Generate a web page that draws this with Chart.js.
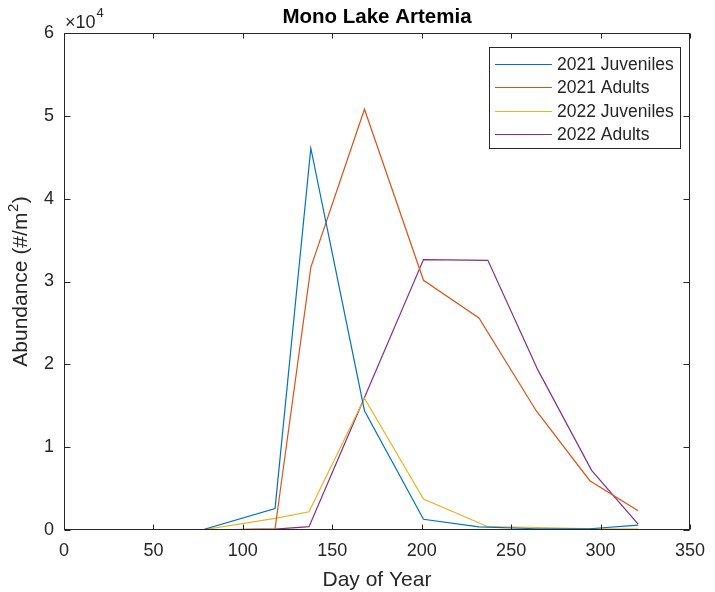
<!DOCTYPE html>
<html>
<head>
<meta charset="utf-8">
<script src="https://cdn.jsdelivr.net/npm/chart.js@4"></script>
<style>
  html, body { margin: 0; padding: 0; background: #fff; }
  #wrap { width: 715px; height: 592px; position: relative; }
</style>
</head>
<body>
<div id="wrap"><canvas id="c" width="715" height="592"></canvas></div>
<script>
// ---- data ----
const seriesLabels = ["2021 Juveniles", "2021 Adults", "2022 Juveniles", "2022 Adults"];
const days2021 = [42, 77, 118, 138, 168, 201, 232, 264, 294, 321];
const days2022 = [42, 77, 118, 137, 168, 201, 237, 265, 295, 321];
const juveniles2021 = [0, 0, 2600, 46100, 14400, 1300, 380, 150, 150, 600];
const adults2021 = [0, 0, 150, 31700, 50800, 30150, 25600, 14400, 5950, 2330];
const juveniles2022 = [0, 0, 1400, 2200, 15900, 3750, 400, 300, 150, 100];
const adults2022 = [0, 0, 100, 400, 16000, 32650, 32560, 19300, 7200, 700];
const xTicks = [0, 50, 100, 150, 200, 250, 300, 350];
const yTicks = [0, 1, 2, 3, 4, 5, 6]; // x 10^4
const yMultiplier = 10000;

const colors = ["#0072BD", "#D95319", "#EDB120", "#7E2F8E"];
const seriesDays = [days2021, days2021, days2022, days2022];
const seriesVals = [juveniles2021, adults2021, juveniles2022, adults2022];

const datasets = seriesLabels.map((lab, i) => ({
  label: lab,
  data: seriesDays[i].map((d, j) => ({ x: d, y: seriesVals[i][j] })),
  borderColor: colors[i],
  backgroundColor: colors[i],
  borderWidth: 1.2,
  pointRadius: 0,
  showLine: true,
  tension: 0,
  fill: false
}));

const AX = "#262626";
const FONT = "'Liberation Sans', Arial, Helvetica, sans-serif";

const decor = {
  id: "decor",
  afterDraw(chart) {
    const ctx = chart.ctx;
    const a = chart.chartArea;
    const xs = chart.scales.x, ys = chart.scales.y;
    ctx.save();
    // frame
    ctx.strokeStyle = AX;
    ctx.lineWidth = 1;
    const L = Math.round(a.left) + 0.5, R = Math.round(a.right) - 0.5;
    const T = Math.round(a.top) + 0.5, B = Math.round(a.bottom) - 0.5;
    ctx.strokeRect(L, T, R - L, B - T);
    // inward ticks
    const tl = 5;
    ctx.beginPath();
    xTicks.forEach(v => {
      const px = Math.round(xs.getPixelForValue(v)) + 0.5;
      ctx.moveTo(px, B); ctx.lineTo(px, B - tl);
      ctx.moveTo(px, T); ctx.lineTo(px, T + tl);
    });
    yTicks.forEach(v => {
      const py = Math.round(ys.getPixelForValue(v * yMultiplier)) + 0.5;
      ctx.moveTo(L, py); ctx.lineTo(L + tl + 1, py);
      ctx.moveTo(R, py); ctx.lineTo(R - tl - 1, py);
    });
    ctx.stroke();

    // title
    ctx.fillStyle = "#000";
    ctx.font = "bold 20.5px " + FONT;
    ctx.textAlign = "center";
    ctx.textBaseline = "alphabetic";
    ctx.fillText("Mono Lake Artemia", (a.left + a.right) / 2, 23);

    // exponent label
    ctx.fillStyle = AX;
    ctx.textAlign = "left";
    ctx.font = "18px " + FONT;
    ctx.fillText("\u00d710", 65, 28);
    const w10 = ctx.measureText("\u00d710").width;
    ctx.font = "13px " + FONT;
    ctx.fillText("4", 65 + w10 + 1, 17);

    // x label
    ctx.font = "21px " + FONT;
    ctx.textAlign = "center";
    ctx.fillText("Day of Year", (a.left + a.right) / 2, 586);

    // y label (rotated, with superscript)
    ctx.save();
    ctx.translate(27, (a.top + a.bottom) / 2);
    ctx.rotate(-Math.PI / 2);
    ctx.textAlign = "left";
    const p1 = "Abundance (#/m", p2 = "2", p3 = ")";
    ctx.font = "21px " + FONT;
    const w1 = ctx.measureText(p1).width, w3 = ctx.measureText(p3).width;
    ctx.font = "15px " + FONT;
    const w2 = ctx.measureText(p2).width;
    const total = w1 + w2 + w3 + 1;
    let x0 = -total / 2;
    ctx.font = "21px " + FONT;
    ctx.fillText(p1, x0, 0);
    ctx.font = "15px " + FONT;
    ctx.fillText(p2, x0 + w1 + 0.5, -9);
    ctx.font = "21px " + FONT;
    ctx.fillText(p3, x0 + w1 + w2 + 1, 0);
    ctx.restore();

    // legend
    const lx = 489.5, ly = 47.5, lw = 191, lh = 101;
    ctx.fillStyle = "#fff";
    ctx.fillRect(lx, ly, lw, lh);
    ctx.strokeStyle = AX;
    ctx.lineWidth = 1;
    ctx.strokeRect(lx, ly, lw, lh);
    ctx.font = "17.5px " + FONT;
    ctx.textAlign = "left";
    ctx.textBaseline = "middle";
    chart.data.datasets.forEach((ds, i) => {
      const cy = 64 + i * 23.4;
      ctx.strokeStyle = ds.borderColor;
      ctx.lineWidth = 1.2;
      ctx.beginPath();
      ctx.moveTo(495, Math.round(cy) + 0.5);
      ctx.lineTo(552, Math.round(cy) + 0.5);
      ctx.stroke();
      ctx.fillStyle = AX;
      ctx.fillText(ds.label, 557, cy + 1);
    });
    ctx.restore();
  }
};

new Chart(document.getElementById("c"), {
  type: "scatter",
  data: { datasets },
  options: {
    responsive: false,
    animation: false,
    events: [],
    layout: { padding: { left: 0, top: 33, right: 18, bottom: 0 } },
    plugins: { legend: { display: false }, tooltip: { enabled: false }, title: { display: false } },
    scales: {
      x: {
        type: "linear",
        min: 0, max: 350,
        afterFit(s) { s.height = 62; },
        afterBuildTicks(s) { s.ticks = xTicks.map(v => ({ value: v })); },
        grid: { display: false, drawTicks: false },
        border: { display: false },
        ticks: { color: AX, font: { family: FONT, size: 18 }, padding: 10, maxRotation: 0, autoSkip: false }
      },
      y: {
        type: "linear",
        min: 0, max: 6 * yMultiplier,
        afterFit(s) { s.width = 64; },
        afterBuildTicks(s) { s.ticks = yTicks.map(v => ({ value: v * yMultiplier })); },
        grid: { display: false, drawTicks: false },
        border: { display: false },
        ticks: { color: AX, font: { family: FONT, size: 18 }, padding: 10, autoSkip: false,
                 callback: v => String(v / yMultiplier) }
      }
    }
  },
  plugins: [decor]
});
</script>
</body>
</html>
